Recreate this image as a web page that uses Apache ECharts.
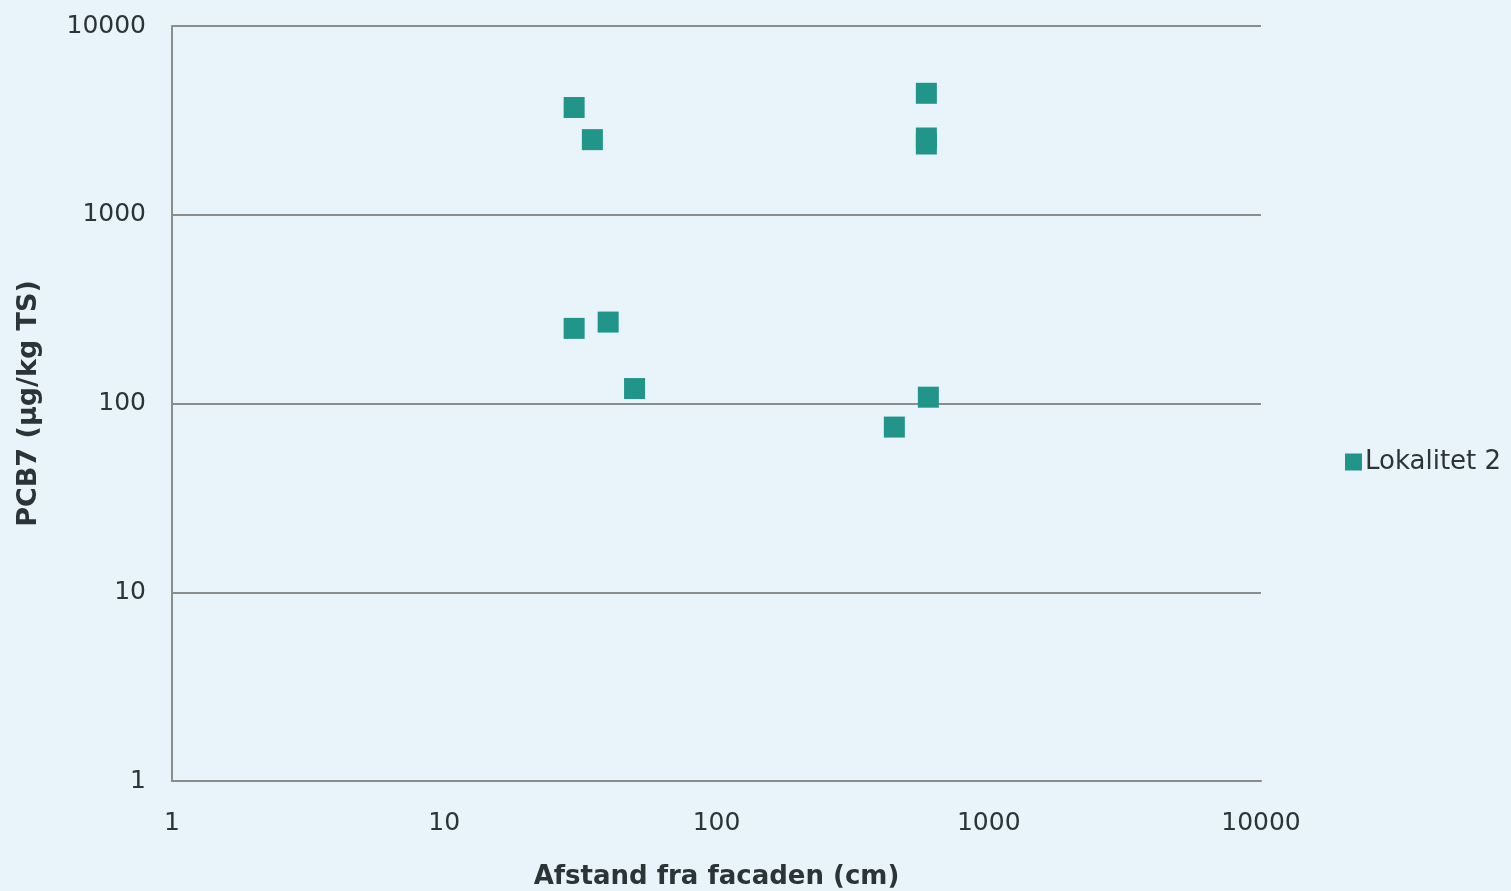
<!DOCTYPE html>
<html>
<head>
<meta charset="utf-8">
<style>
  html, body { margin: 0; padding: 0; background: #e8f3fa; }
  #chart { width: 1511px; height: 891px; }
</style>
<script src="https://cdn.jsdelivr.net/npm/echarts@6/dist/echarts.min.js"></script>
</head>
<body>
<div id="chart"></div>
<script>
// Distance from the facade (cm) and PCB7 concentration (µg/kg TS)
const distanceCm = [30, 35, 590, 590, 590, 30, 40, 50, 450, 600];
const pcb7 = [3700, 2500, 4400, 2550, 2370, 250, 270, 120, 75, 108];
const seriesName = 'Lokalitet 2';
const xTitle = 'Afstand fra facaden (cm)';
const yTitle = 'PCB7 (µg/kg TS)';

const points = distanceCm.map((d, i) => [d, pcb7[i]]);
const textColor = '#2b3538';
const fontFamily = '"DejaVu Sans", Verdana, sans-serif';
const plainNumber = v => String(Math.round(v));

const chart = echarts.init(document.getElementById('chart'));
chart.setOption({
  backgroundColor: '#e8f3fa',
  animation: false,
  grid: { left: 172, right: 250, top: 26, bottom: 110, containLabel: false, outerBoundsMode: 'none' },
  legend: {
    data: [{ name: seriesName, icon: 'rect' }],
    orient: 'vertical',
    left: 1340,
    top: 444,
    itemWidth: 17,
    itemHeight: 17,
    itemGap: 6,
    textStyle: { color: textColor, fontSize: 26, fontFamily: fontFamily, padding: [0, 0, 0, -2] }
  },
  xAxis: {
    type: 'log',
    logBase: 10,
    min: 1,
    max: 10000,
    name: xTitle,
    nameLocation: 'middle',
    nameGap: 83,
    nameTextStyle: { color: textColor, fontSize: 26, fontWeight: 'bold', fontFamily: fontFamily },
    axisLine: { show: true, lineStyle: { color: '#8a8d8e', width: 2 } },
    axisTick: { show: false },
    axisLabel: { color: textColor, fontSize: 25, fontFamily: fontFamily, margin: 30, formatter: plainNumber },
    splitLine: { show: false }
  },
  yAxis: {
    type: 'log',
    logBase: 10,
    min: 1,
    max: 10000,
    name: yTitle,
    nameLocation: 'middle',
    nameGap: 130,
    nameRotate: 90,
    nameTextStyle: { color: textColor, fontSize: 27, fontWeight: 'bold', fontFamily: fontFamily },
    axisLine: { show: true, lineStyle: { color: '#8a8d8e', width: 2 } },
    axisTick: { show: false },
    axisLabel: { color: textColor, fontSize: 25, fontFamily: fontFamily, margin: 26, formatter: plainNumber },
    splitLine: { show: true, lineStyle: { color: '#8a8d8e', width: 2 } }
  },
  series: [{
    name: seriesName,
    type: 'scatter',
    symbol: 'rect',
    symbolSize: 21,
    itemStyle: { color: '#21958a', opacity: 1 },
    data: points
  }]
});
</script>
</body>
</html>
